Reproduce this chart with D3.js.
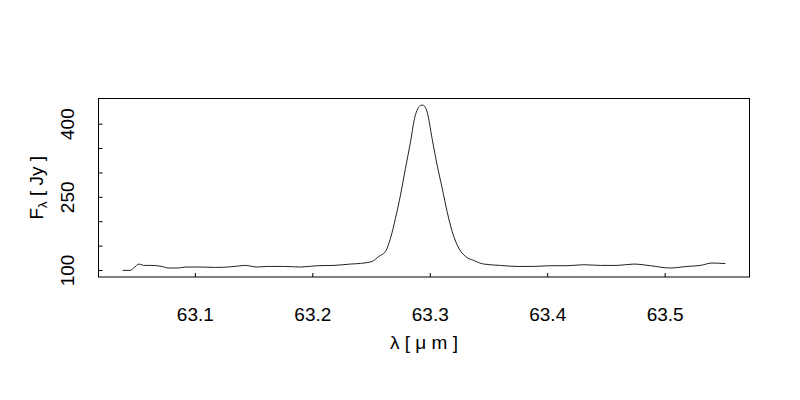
<!DOCTYPE html>
<html>
<head>
<meta charset="utf-8">
<script src="https://cdn.jsdelivr.net/npm/d3@7"></script>
<style>
  body { margin: 0; background: #fff; }
  text { font-family: "Liberation Sans", Arial, sans-serif; fill: #000; }
</style>
</head>
<body>
<div id="chart"></div>
<script>
// Spectrum (wavelength in micron, flux in Jy)
var wavelength = [63.0385, 63.045, 63.0478, 63.0527, 63.0563, 63.0634, 63.0719, 63.0776, 63.0861, 63.0918,
    63.1031, 63.1174, 63.1315, 63.1429, 63.1528, 63.1616, 63.1757, 63.19, 63.2042, 63.2183,
    63.2325, 63.241, 63.251, 63.2566, 63.2623, 63.2666, 63.2708, 63.2751,
    63.2793, 63.2836, 63.287, 63.2898, 63.2921, 63.2935, 63.2949, 63.2978, 63.302, 63.3063,
    63.3106, 63.3148, 63.3191, 63.3247, 63.3304, 63.3374, 63.346, 63.3602, 63.3744, 63.3885,
    63.4027, 63.4169, 63.4311, 63.4453, 63.4595, 63.4736, 63.4878, 63.5048, 63.5191, 63.5304,
    63.5403, 63.5517];
var flux = [99.2, 99.2, 104.1, 112.2, 109.4, 109.4, 107.3, 104.1, 104.1, 106.1,
    106.1, 105.3, 106.7, 109.4, 106.1, 107.3, 107.3, 106.1, 108.8, 109.4,
    112.2, 113.5, 117.6, 127.8, 138, 165.3, 206.1, 253.7,
    308.2, 362.4, 410.2, 430.6, 437.3, 438, 437.3, 423.7, 369.4, 314.9,
    267.3, 219.6, 178.8, 144.9, 127.8, 119.6, 112.2, 109.4, 107.3, 107.3,
    108.8, 108.8, 110.8, 109.4, 109.4, 112.2, 108.8, 104.1, 107.3, 109.4,
    114.3, 113.1];

var xTicks = [63.1, 63.2, 63.3, 63.4, 63.5];
var yTicks = [100, 150, 200, 250, 300, 350, 400];
var yTickLabels = [100, 250, 400];

var svgWidth = 800;
var svgHeight = 400;

var margin = {
    top: 98.5,
    right: 50.5,
    bottom: 123,
    left: 98.5
};

var width = svgWidth - margin.left - margin.right;
var height = svgHeight - margin.top - margin.bottom;

var svg = d3.select("#chart")
    .append("svg")
    .attr("width", svgWidth)
    .attr("height", svgHeight);

var chartGroup = svg.append("g")
    .attr("transform", `translate(${margin.left}, ${margin.top})`);

// R style ranges: data extent padded by 4% each side
function padded(ext) {
    var d = (ext[1] - ext[0]) * 0.04;
    return [ext[0] - d, ext[1] + d];
}

var xLinearScale = d3.scaleLinear()
    .domain(padded(d3.extent(wavelength)))
    .range([0, width]);

var yLinearScale = d3.scaleLinear()
    .domain(padded(d3.extent(flux)))
    .range([height, 0]);

// Axes with inward ticks
var bottomAxis = d3.axisBottom(xLinearScale)
    .tickValues(xTicks)
    .tickSizeInner(-4)
    .tickSizeOuter(0)
    .tickPadding(31)
    .tickFormat(d3.format(".1f"));

var leftAxis = d3.axisLeft(yLinearScale)
    .tickValues(yTicks)
    .tickSizeInner(-4)
    .tickSizeOuter(0)
    .tickFormat(d => yTickLabels.indexOf(d) >= 0 ? d : "");

var xAxis = chartGroup.append("g")
    .attr("transform", `translate(0, ${height})`)
    .call(bottomAxis);

var yAxis = chartGroup.append("g")
    .call(leftAxis);

[xAxis, yAxis].forEach(function(ax) {
    ax.select(".domain").remove();
    ax.selectAll("line").attr("stroke", "#000");
    ax.selectAll("text").attr("font-size", 19).attr("font-family", null);
});

// rotate y tick labels parallel to the axis
yAxis.selectAll(".tick text")
    .attr("x", null)
    .attr("dy", null)
    .attr("text-anchor", "middle")
    .attr("transform", "translate(-25, 0) rotate(-90)");

// Box round the plot
chartGroup.append("rect")
    .attr("width", width)
    .attr("height", height)
    .attr("fill", "none")
    .attr("stroke", "#000")
    .attr("stroke-width", 1);

// Spectrum line
var line = d3.line()
    .x((d, i) => xLinearScale(wavelength[i]))
    .y(d => yLinearScale(d))
    .curve(d3.curveMonotoneX);

chartGroup.append("path")
    .datum(flux)
    .attr("fill", "none")
    .attr("stroke", "#222")
    .attr("stroke-width", 1)
    .attr("d", line);

// Axis titles
svg.append("text")
    .attr("x", margin.left + width / 2)
    .attr("y", 349)
    .attr("text-anchor", "middle")
    .attr("font-size", 19)
    .text("λ [ μ m ]");

var yTitle = svg.append("text")
    .attr("transform", `translate(43, ${margin.top + height / 2}) rotate(-90)`)
    .attr("text-anchor", "middle")
    .attr("font-size", 19);
yTitle.append("tspan").text("F");
yTitle.append("tspan").attr("font-size", 13).attr("dy", 4).text("λ");
yTitle.append("tspan").attr("dy", -4).text(" [ Jy ]");
</script>
</body>
</html>
